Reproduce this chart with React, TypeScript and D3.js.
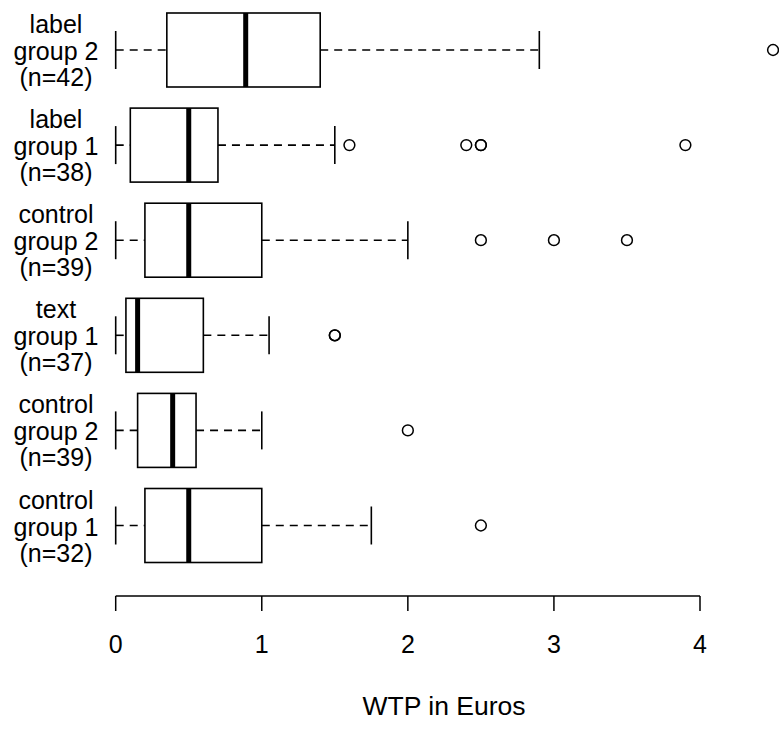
import React from "react";
import * as d3 from "d3";

const line1 = ["label", "label", "control", "text", "control", "control"];
const line2 = ["group 2", "group 1", "group 2", "group 1", "group 2", "group 1"];
const nLabels = ["(n=42)", "(n=38)", "(n=39)", "(n=37)", "(n=39)", "(n=32)"];
const whiskerLow = [0, 0, 0, 0, 0, 0];
const q1 = [0.35, 0.1, 0.2, 0.07, 0.15, 0.2];
const median = [0.89, 0.5, 0.5, 0.15, 0.39, 0.5];
const q3 = [1.4, 0.7, 1.0, 0.6, 0.55, 1.0];
const whiskerHigh = [2.9, 1.5, 2.0, 1.05, 1.0, 1.75];
const outliers = [[4.5], [1.6, 2.4, 2.5, 2.5, 3.9], [2.5, 3.0, 3.5], [1.5, 1.5], [2.0], [2.5]];
const xTicks = [0, 1, 2, 3, 4];
const xTitle = "WTP in Euros";

const W = 779, H = 731;
const font = "'Liberation Sans', Arial, sans-serif";

export default function App() {
  const x = d3.scaleLinear().domain([0, 4]).range([115.7, 700]);
  const y = d3.scalePoint<number>().domain(d3.range(6)).range([50, 525.5]);
  const hh = 37;
  const sh = 19;
  const axisY = 596;
  return (
    <svg width={W} height={H} style={{ position: "absolute", left: 0, top: 0, background: "#fff" }}>
      {d3.range(6).map((i) => {
        const c = y(i)!;
        return (
          <g key={i}>
            <line x1={x(whiskerLow[i])} x2={x(q1[i])} y1={c} y2={c} stroke="#000" strokeWidth={1.6} strokeDasharray="8 6" />
            <line x1={x(q3[i])} x2={x(whiskerHigh[i])} y1={c} y2={c} stroke="#000" strokeWidth={1.6} strokeDasharray="8 6" />
            <line x1={x(whiskerLow[i])} x2={x(whiskerLow[i])} y1={c - sh} y2={c + sh} stroke="#000" strokeWidth={1.6} />
            <line x1={x(whiskerHigh[i])} x2={x(whiskerHigh[i])} y1={c - sh} y2={c + sh} stroke="#000" strokeWidth={1.6} />
            <rect x={x(q1[i])} y={c - hh} width={x(q3[i]) - x(q1[i])} height={2 * hh} fill="#fff" stroke="#000" strokeWidth={1.6} />
            <line x1={x(median[i])} x2={x(median[i])} y1={c - hh} y2={c + hh} stroke="#000" strokeWidth={5} />
            {outliers[i].map((v, j) => (
              <circle key={j} cx={x(v)} cy={c} r={5.4} fill="none" stroke="#000" strokeWidth={1.5} />
            ))}
            <g fontFamily={font} fontSize={25} textAnchor="middle" fill="#000">
              <text x={56} y={c - 17}>{line1[i]}</text>
              <text x={56} y={c + 10}>{line2[i]}</text>
              <text x={56} y={c + 36}>{nLabels[i]}</text>
            </g>
          </g>
        );
      })}
      <line x1={x(0)} x2={x(4)} y1={axisY} y2={axisY} stroke="#000" strokeWidth={1.5} />
      {xTicks.map((t) => (
        <g key={t}>
          <line x1={x(t)} x2={x(t)} y1={axisY} y2={axisY + 15} stroke="#000" strokeWidth={1.5} />
          <text x={x(t)} y={653} fontFamily={font} fontSize={25} textAnchor="middle">{t}</text>
        </g>
      ))}
      <text x={444} y={715} fontFamily={font} fontSize={26.5} textAnchor="middle">{xTitle}</text>
    </svg>
  );
}
